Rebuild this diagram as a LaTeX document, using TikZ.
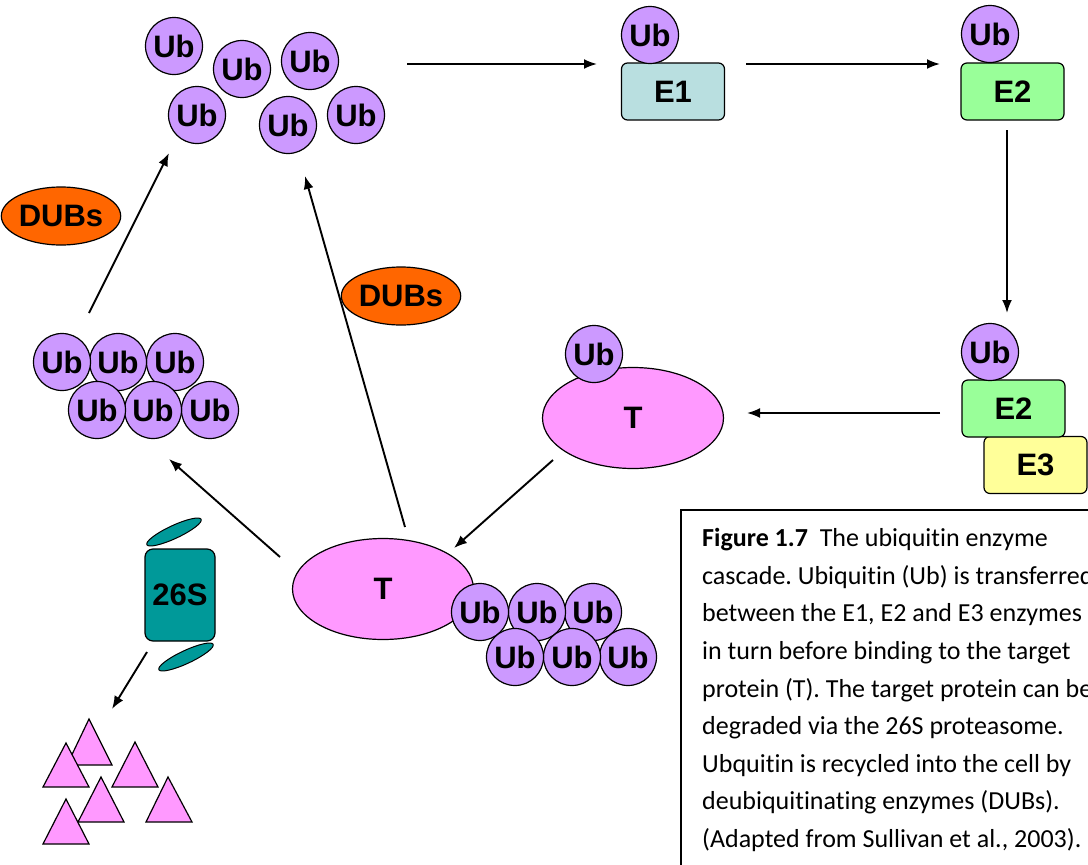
\documentclass[tikz,border=0pt]{standalone}
\usepackage{fontspec}
\setmainfont{Liberation Sans}
\newfontfamily\capfont[RawFeature={-liga}]{Carlito}
\usetikzlibrary{shapes.geometric,arrows.meta}
\definecolor{ubc}{HTML}{CC99FF}
\definecolor{tc}{HTML}{FF99FF}
\definecolor{eone}{HTML}{B9DFE0}
\definecolor{etwo}{HTML}{99FF99}
\definecolor{ethree}{HTML}{FFFF99}
\definecolor{dubc}{HTML}{FF6600}
\definecolor{pc}{HTML}{009999}
\frenchspacing
\begin{document}
\begin{tikzpicture}[x=1pt,y=-1pt,
  lab/.style={font=\bfseries\fontsize{31}{36}\selectfont},
  ub/.style={circle,draw,line width=1.2pt,fill=ubc,minimum size=57pt,inner sep=0pt,lab},
  ebox/.style={draw,line width=1.2pt,rounded corners=6pt,minimum width=103pt,minimum height=57pt,inner sep=0pt,lab},
  tprot/.style={ellipse,draw,line width=1.2pt,fill=tc,minimum width=181pt,minimum height=101pt,inner sep=0pt,lab},
  dubs/.style={ellipse,draw,line width=1.2pt,fill=dubc,minimum width=104pt,minimum height=58pt,inner sep=0pt,lab},
  lidcap/.style={ellipse,draw,line width=1pt,fill=pc,minimum width=60pt,minimum height=13pt,inner sep=0pt,rotate=25},
  frag/.style={draw,line width=1.2pt,fill=tc,line join=miter},
  arr/.style={line width=1.9pt,-{Latex[length=13pt,width=10pt]}},
  captxt/.style={anchor=base west,inner sep=0pt,font=\capfont\fontsize{26}{30}\selectfont}]
\clip (0,0) rectangle (1088,865);

% free ubiquitin cluster
\node[ub] (f1) at (174,46) {Ub};
\node[ub] (f2) at (242,69) {Ub};
\node[ub] (f3) at (310,61) {Ub};
\node[ub] (f4) at (197,115) {Ub};
\node[ub] (f5) at (288,125) {Ub};
\node[ub] (f6) at (356,115) {Ub};

% E1 and E2
\node[ebox,fill=eone] (e1) at (673,91.5) {E1};
\node[ub] (ue1) at (650,35) {Ub};
\node[ebox,fill=etwo] (e2a) at (1012.5,91.5) {E2};
\node[ub] (ue2a) at (990,34) {Ub};

% E2 / E3 complex
\node[ebox,fill=ethree] (e3) at (1035.5,465) {E3};
\node[ebox,fill=etwo] (e2b) at (1013.5,408.5) {E2};
\node[ub] (ue2b) at (990,352) {Ub};

% target with one Ub
\node[tprot] (t1) at (633,418) {T};
\node[ub] (ut1) at (594,354) {Ub};

% target with chain
\node[tprot] (t2) at (383,589) {T};
\node[ub] (c3) at (593,612) {Ub};
\node[ub] (c2) at (537,612) {Ub};
\node[ub] (c1) at (480,612) {Ub};
\node[ub] (c6) at (628,657) {Ub};
\node[ub] (c5) at (572,657) {Ub};
\node[ub] (c4) at (515,657) {Ub};

% released chain
\node[ub] (l3) at (175,362) {Ub};
\node[ub] (l2) at (118,362) {Ub};
\node[ub] (l1) at (62,362) {Ub};
\node[ub] (l6) at (210,410) {Ub};
\node[ub] (l5) at (153,410) {Ub};
\node[ub] (l4) at (97,410) {Ub};

% DUBs
\node[dubs] (d1) at (61,216) {DUBs};
\node[dubs] (d2) at (401,296) {DUBs};

% 26S proteasome
\node[draw,line width=1.2pt,fill=pc,rounded corners=8pt,minimum width=70pt,minimum height=92pt,inner sep=0pt,lab] (p26) at (180,595) {26S};
\node[lidcap] (capt) at (174,532) {};
\node[lidcap] (capb) at (186,657) {};

% peptide fragments
\draw[frag] (89,719) -- (67,765) -- (112,765) -- cycle;
\draw[frag] (66,743) -- (43,787) -- (89,787) -- cycle;
\draw[frag] (135,742) -- (112,787) -- (158,787) -- cycle;
\draw[frag] (101,777) -- (78,822) -- (124,822) -- cycle;
\draw[frag] (66,799) -- (43,844) -- (89,844) -- cycle;
\draw[frag] (168,777) -- (146,822) -- (192,822) -- cycle;

% arrow end points
\coordinate (a1s) at (407,64);   \coordinate (a1e) at (597,64);
\coordinate (a2s) at (746,64);   \coordinate (a2e) at (940,64);
\coordinate (a3s) at (1007,130); \coordinate (a3e) at (1007,313);
\coordinate (a4s) at (940,413);  \coordinate (a4e) at (747,413);
\coordinate (a5s) at (553,460);  \coordinate (a5e) at (454,548);
\coordinate (a6s) at (405,527);  \coordinate (a6e) at (305,176);
\coordinate (a7s) at (280,557);  \coordinate (a7e) at (169,459);
\coordinate (a8s) at (89,313);   \coordinate (a8e) at (169,153);
\coordinate (a9s) at (147,652);  \coordinate (a9e) at (112,709);

\draw[arr] (a1s) -- (a1e);
\draw[arr] (a2s) -- (a2e);
\draw[arr] (a3s) -- (a3e);
\draw[arr] (a4s) -- (a4e);
\draw[arr] (a5s) -- (a5e);
\draw[arr] (a6s) -- (a6e);
\draw[arr] (a7s) -- (a7e);
\draw[arr] (a8s) -- (a8e);
\draw[arr] (a9s) -- (a9e);

% caption (clipped at the right and bottom edges as in the reference)
\draw[line width=1.5pt] (681,510) rectangle (1120,900);
\node[captxt] (cl1) at (702,546.7) {\textbf{Figure 1.7}\ \ The ubiquitin enzyme};
\node[captxt] (cl2) at (702,584.3) {cascade. Ubiquitin (Ub) is transferred};
\node[captxt] (cl3) at (702,621.9) {between the E1, E2 and E3 enzymes};
\node[captxt] (cl4) at (702,659.5) {in turn before binding to the target};
\node[captxt] (cl5) at (702,697.1) {protein (T). The target protein can be};
\node[captxt] (cl6) at (702,734.7) {degraded via the 26S proteasome.};
\node[captxt] (cl7) at (702,772.3) {Ubquitin is recycled into the cell by};
\node[captxt] (cl8) at (702,809.9) {deubiquitinating enzymes (DUBs).};
\node[captxt] (cl9) at (702,847.5) {(Adapted from Sullivan et al., 2003).};
\end{tikzpicture}
\end{document}
